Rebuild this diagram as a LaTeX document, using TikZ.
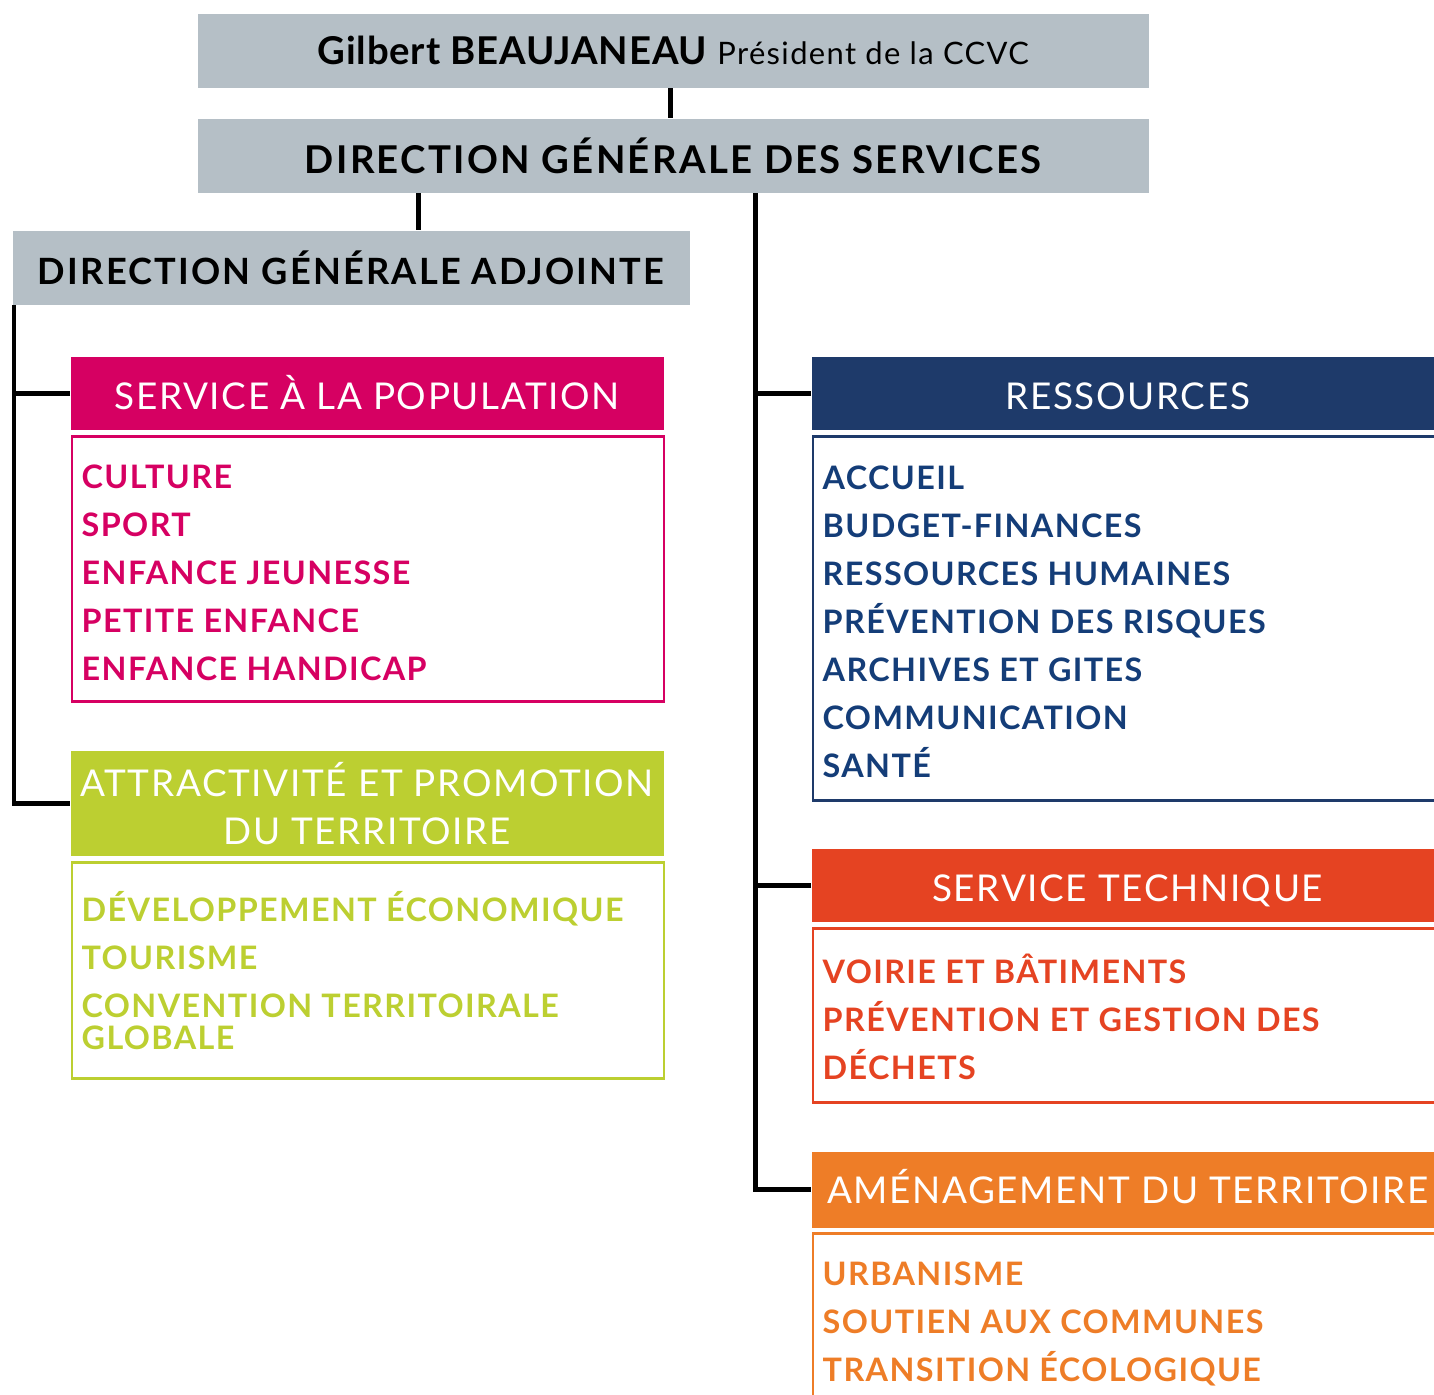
\documentclass[tikz,border=0pt]{standalone}
\usepackage{fontspec}
\setmainfont{Lato}
\newfontfamily\itemfont[LetterSpace=4.3]{Lato}
\newfontfamily\headfont[LetterSpace=4.4]{Lato}
\newfontfamily\dirfont[LetterSpace=6.0]{Lato}
\newfontfamily\presfont[LetterSpace=2.2]{Lato}
\usetikzlibrary{positioning,calc}

\definecolor{ccgray}{HTML}{B5BFC6}
\definecolor{ccmag}{HTML}{D60062}
\definecolor{cclime}{HTML}{BCCF31}
\definecolor{ccnavy}{HTML}{1E3A6A}
\definecolor{ccblue}{HTML}{143D78}
\definecolor{ccred}{HTML}{E54322}
\definecolor{ccorange}{HTML}{EE7D27}

\begin{document}
\begin{tikzpicture}[
    grayhead/.style={fill=ccgray, minimum height=0.74cm, inner sep=0pt, anchor=north west,
        font=\dirfont\fontsize{10.9}{13}\selectfont\bfseries},
    servhead/.style={fill=#1, text=white, inner sep=0pt, anchor=north west, align=center,
        font=\headfont\fontsize{10.5}{13.66}\selectfont},
    onerow/.style={text height=#1, text depth=0pt},
    onerow/.default=9.5pt,
    servbody/.style={draw=#1, line width=0.7pt, inner sep=0pt},
    item/.style={text=#1, inner sep=0pt, anchor=base west,
        font=\itemfont\fontsize{9.2}{13.66}\selectfont\bfseries},
    link/.style={line width=1.35pt}
]
    \useasboundingbox (0,0) rectangle (14.34,-13.95);
    \clip (0,0) rectangle (14.34,-13.95);

    % direction
    \node [grayhead, minimum width=9.51cm] (pres) at (1.97,-0.13)
        {\presfont\bfseries Gilbert BEAUJANEAU {\mdseries\headfont\fontsize{8.8}{13}\selectfont Président de la CCVC}};
    \node [grayhead, minimum width=9.51cm] (dgs) at (1.97,-1.18) {DIRECTION GÉNÉRALE DES SERVICES};
    \node [grayhead, minimum width=6.77cm, font=\dirfont\fontsize{10.3}{13}\selectfont\bfseries] (dga) at (0.12,-2.30) {DIRECTION GÉNÉRALE ADJOINTE};

    % services (left)
    \node [servhead=ccmag, onerow, minimum width=5.93cm, minimum height=0.73cm] (sap) at (0.70,-3.56) {SERVICE À LA POPULATION};
    \node [servbody=ccmag, minimum width=5.92cm, minimum height=2.65cm, below right=0.05cm and 0.01cm of sap.south west] (sapbody) {};
    \node [servhead=cclime, minimum width=5.93cm, minimum height=1.05cm] (att) at (0.70,-7.50) {ATTRACTIVITÉ ET PROMOTION\\DU TERRITOIRE};
    \node [servbody=cclime, minimum width=5.92cm, minimum height=2.16cm, below right=0.05cm and 0.01cm of att.south west] (attbody) {};

    % services (right)
    \node [servhead=ccnavy, onerow, minimum width=6.32cm, minimum height=0.73cm] (res) at (8.11,-3.56) {RESSOURCES};
    \node [servbody=ccnavy, minimum width=6.31cm, minimum height=3.64cm, below right=0.05cm and 0.01cm of res.south west] (resbody) {};
    \node [servhead=ccred, onerow, minimum width=6.32cm, minimum height=0.73cm] (tech) at (8.11,-8.48) {SERVICE TECHNIQUE};
    \node [servbody=ccred, minimum width=6.31cm, minimum height=1.74cm, below right=0.05cm and 0.01cm of tech.south west] (techbody) {};
    \node [servhead=ccorange, onerow=7.8pt, minimum width=6.32cm, minimum height=0.76cm] (amt) at (8.11,-11.51) {AMÉNAGEMENT DU TERRITOIRE};
    \node [servbody=ccorange, minimum width=6.31cm, minimum height=2.00cm, below right=0.04cm and 0.01cm of amt.south west] (amtbody) {};

    % items
    \foreach \t [count=\i] in {CULTURE, SPORT, ENFANCE JEUNESSE, PETITE ENFANCE, ENFANCE HANDICAP}
        \node [item=ccmag] (sap-\i) at ($(sapbody.north west)+(0.10,-0.05-0.48*\i)$) {\t};
    \node [item=cclime] (att-1) at ($(attbody.north west)+(0.10,-0.60)$) {DÉVELOPPEMENT ÉCONOMIQUE};
    \node [item=cclime] (att-2) at ($(attbody.north west)+(0.10,-1.08)$) {TOURISME};
    \node [item=cclime] (att-3) at ($(attbody.north west)+(0.10,-1.56)$) {CONVENTION TERRITOIRALE};
    \node [item=cclime] (att-4) at ($(attbody.north west)+(0.10,-1.88)$) {GLOBALE};
    \foreach \t [count=\i] in {ACCUEIL, BUDGET-FINANCES, RESSOURCES HUMAINES, PRÉVENTION DES RISQUES, ARCHIVES ET GITES, COMMUNICATION, SANTÉ}
        \node [item=ccblue] (res-\i) at ($(resbody.north west)+(0.10,-0.06-0.48*\i)$) {\t};
    \foreach \t [count=\i] in {VOIRIE ET BÂTIMENTS, PRÉVENTION ET GESTION DES, DÉCHETS}
        \node [item=ccred] (tech-\i) at ($(techbody.north west)+(0.10,-0.08-0.48*\i)$) {\t};
    \foreach \t [count=\i] in {URBANISME, SOUTIEN AUX COMMUNES, TRANSITION ÉCOLOGIQUE}
        \node [item=ccorange] (amt-\i) at ($(amtbody.north west)+(0.10,-0.05-0.48*\i)$) {\t};

    % links
    \coordinate (lspine) at ([xshift=0.02cm]dga.south west);
    \coordinate (rspine) at ([xshift=0.825cm]dgs.south);
    \draw [link] ([xshift=-0.03cm]pres.south) -- ([xshift=-0.03cm]dgs.north);
    \draw [link] ([xshift=0.675cm]dga.north) -- ([xshift=0.675cm]dga.north |- dgs.south);
    \draw [link] (lspine) |- (att.west);
    \draw [link] (sap.west) -- (sap.west -| lspine);
    \draw [link] (rspine) |- (amt.west);
    \draw [link] (res.west) -- (res.west -| rspine);
    \draw [link] (tech.west) -- (tech.west -| rspine);
\end{tikzpicture}
\end{document}
